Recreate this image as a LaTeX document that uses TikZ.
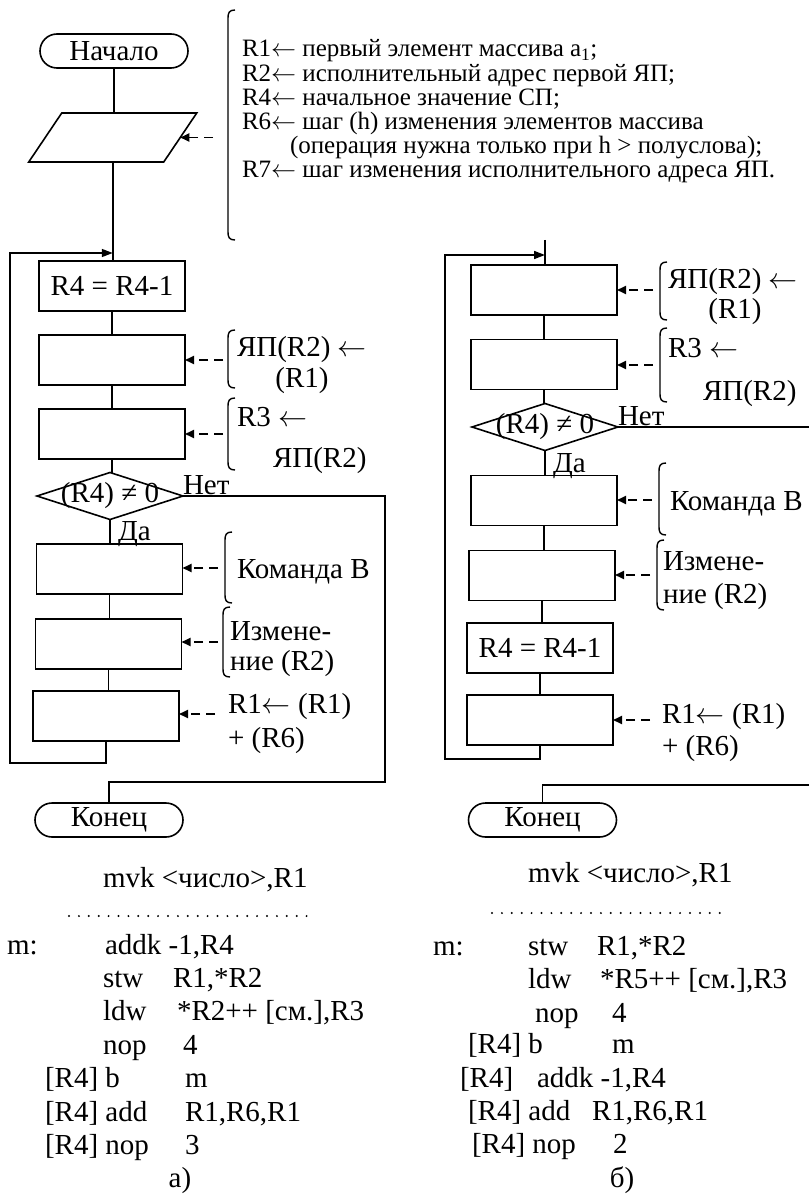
\RequirePackage{fix-cm}
\documentclass[tikz,border=0pt]{standalone}
\usepackage{fontspec}
\setmainfont{Liberation Serif}
\usetikzlibrary{shapes.geometric,shapes.misc,arrows.meta}

% side bracket: x, top y, bottom y
\newcommand\sidebracket[3]{%
  \draw[brc] (#1+7,#2) .. controls (#1+1,#2) and (#1,#2+3) .. (#1,#2+8)
    -- (#1,#3-8) .. controls (#1,#3-3) and (#1+1,#3) .. (#1+7,#3);}
\newcommand\larrow{$\leftarrow$}

\begin{document}
\begin{tikzpicture}[x=1pt,y=-1pt,
  every node/.style={inner sep=0pt,outer sep=0pt},
  ln/.style={line width=1.6pt},
  brc/.style={line width=1.4pt},
  blk/.style={draw,line width=1.6pt,rectangle,minimum width=146pt,minimum height=50pt,font=\fontsize{29}{32}\selectfont},
  term/.style={draw,line width=1.6pt,rounded rectangle,minimum width=148pt,minimum height=34pt,font=\fontsize{29}{32}\selectfont},
  cond/.style={draw,line width=1.6pt,diamond,minimum width=146pt,minimum height=47pt},
  iocore/.style={rectangle,minimum width=135pt,minimum height=49pt},
  lbl/.style={font=\fontsize{29}{32}\selectfont,anchor=base west},
  clbl/.style={font=\fontsize{29}{32}\selectfont,anchor=base},
  ann/.style={font=\fontsize{25}{24}\selectfont,anchor=base west},
  darr/.style={line width=1.8pt,dash pattern=on 9pt off 6pt,-{Triangle[length=9pt,width=8pt]}},
  larr/.style={ln,-{Triangle[length=11pt,width=8pt]}},
  dotline/.style={line width=2.2pt,dash pattern=on 0pt off 9.9pt,line cap=round}
]
\fill[white] (0,0) rectangle (809,1198);
\useasboundingbox (0,0) rectangle (809,1198);

% ---------- flowchart a) ----------
\node[term] (st1) at (114,51) {Начало};
% data block (parallelogram around a core node)
\node[iocore] (io1) at (112.75,137.5) {};
\draw[ln] ([xshift=-16.5pt]io1.south west) -- ([xshift=16.5pt]io1.north west)
  -- ([xshift=16.5pt]io1.north east) -- ([xshift=-16.5pt]io1.south east) -- cycle;
\node[blk] (a1) at (112,286) {R4 = R4-1};
\node[blk] (a2) at (112,360) {};
\node[blk] (a3) at (112,434) {};
\node[cond] (ad) at (110,496) {};
\node[font=\fontsize{29}{32}\selectfont] (adt) at (ad.center) {(R4) ≠ 0};
\node[blk] (a4) at (109.5,569) {};
\node[blk] (a5) at (108.5,644) {};
\node[blk] (a6) at (106,716) {};
\node[term] (en1) at (109,820) {Конец};

\draw[ln] (st1.south) -- (st1.south |- io1.north);
\draw[ln] (io1.south) -- (io1.south |- a1.north);
\draw[ln] (a1.south) -- (a1.south |- a2.north);
\draw[ln] (a2.south) -- (a2.south |- a3.north);
\draw[ln] (a3.south) -- (a3.south |- ad.north);
\draw[ln] (ad.south) -- (ad.south |- a4.north);
\draw[ln] (a4.south) -- (a4.south |- a5.north);
\draw[ln] (a5.south) -- (a5.south |- a6.north);
\coordinate (aLB) at (10,763);
\coordinate (aLT) at (10,253);
\draw[larr] (a6.south) -- (a6.south |- aLB) -- (aLB) -- (aLT) -- (aLT -| io1.center);
\coordinate (aNo) at (385,782);
\draw[ln] (ad.east) -| (aNo) -- (aNo -| en1.north) -- (en1.north);
\node[lbl] (aNet) at (183,494) {Нет};
\node[lbl] (aDa) at (118,540) {Да};

% dashed pointers
\coordinate (qa0) at (213,137.5);
\coordinate (qa1) at (223,360);
\coordinate (qa2) at (223,434);
\coordinate (qa3) at (218,568);
\coordinate (qa4) at (218,642);
\coordinate (qa5) at (215,714);
\draw[darr] (qa0) -- (io1.east);
\draw[darr] (qa1) -- (qa1 -| a2.east);
\draw[darr] (qa2) -- (qa2 -| a3.east);
\draw[darr] (qa3) -- (qa3 -| a4.east);
\draw[darr] (qa4) -- (qa4 -| a5.east);
\draw[darr] (qa5) -- (qa5 -| a6.east);

% comments
\sidebracket{228}{10}{240}
\node[ann] (c1) at (242,57) {R1\larrow{} первый элемент массива a\textsubscript{1};};
\node[ann] (c2) at (242,82) {R2\larrow{} исполнительный адрес первой ЯП;};
\node[ann] (c3) at (242,106) {R4\larrow{} начальное значение СП;};
\node[ann] (c4) at (242,130) {R6\larrow{} шаг (h) изменения элементов массива};
\node[ann] (c5) at (290,154) {(операция нужна только при h > полуслова);};
\node[ann] (c6) at (242,178) {R7\larrow{} шаг изменения исполнительного адреса ЯП.};

\sidebracket{228}{330}{388}
\node[lbl] (a2t1) at (237,356) {ЯП(R2) \larrow};
\node[clbl] (a2t2) at (302,387) {(R1)};
\sidebracket{228}{398}{470}
\node[lbl] (a3t1) at (237,426) {R3 \larrow};
\node[lbl] (a3t2) at (273,467) {ЯП(R2)};
\sidebracket{225}{532}{603}
\node[lbl] (a4t) at (237,578) {Команда B};
\sidebracket{223}{607}{677}
\node[lbl] (a5t1) at (230,640) {Измене-};
\node[lbl] (a5t2) at (230,670) {ние (R2)};
\node[lbl] (a6t1) at (228,713) {R1\larrow{} (R1)};
\node[lbl] (a6t2) at (228,747) {+ (R6)};

% ---------- flowchart b) ----------
\coordinate (bTop) at (545,240);
\node[blk] (b1) at (544,290) {};
\node[blk] (b2) at (544,364.5) {};
\node[cond] (bd) at (545,427) {};
\node[font=\fontsize{29}{32}\selectfont] (bdt) at (bd.center) {(R4) ≠ 0};
\node[blk] (b3) at (544,500.5) {};
\node[blk] (b4) at (542,575.5) {};
\node[blk] (b5) at (540,648) {R4 = R4-1};
\node[blk] (b6) at (540,720) {};
\node[term] (en2) at (542.5,820) {Конец};

\draw[ln] (bTop) -- (bTop |- b1.north);
\draw[ln] (b1.south) -- (b1.south |- b2.north);
\draw[ln] (b2.south) -- (b2.south |- bd.north);
\draw[ln] (bd.south) -- (bd.south |- b3.north);
\draw[ln] (b3.south) -- (b3.south |- b4.north);
\draw[ln] (b4.south) -- (b4.south |- b5.north);
\draw[ln] (b5.south) -- (b5.south |- b6.north);
\coordinate (bLB) at (445,759);
\coordinate (bLT) at (445,255);
\draw[larr] (b6.south) -- (b6.south |- bLB) -- (bLB) -- (bLT) -- (bLT -| bTop);
\coordinate (bNo) at (809,427);
\draw[ln] (bd.east) -- (bNo);
\coordinate (bEx) at (809,785);
\draw[ln] (bEx) -- (bEx -| en2.north) -- (en2.north);
\node[lbl] (bNet) at (618,425) {Нет};
\node[lbl] (bDa) at (553,472) {Да};

\coordinate (qb1) at (653,290);
\coordinate (qb2) at (653,365);
\coordinate (qb3) at (652,500);
\coordinate (qb4) at (650,575);
\coordinate (qb6) at (650,720);
\draw[darr] (qb1) -- (qb1 -| b1.east);
\draw[darr] (qb2) -- (qb2 -| b2.east);
\draw[darr] (qb3) -- (qb3 -| b3.east);
\draw[darr] (qb4) -- (qb4 -| b4.east);
\draw[darr] (qb6) -- (qb6 -| b6.east);

\sidebracket{660}{262}{320}
\node[lbl] (b1t1) at (668,288) {ЯП(R2) \larrow};
\node[clbl] (b1t2) at (735,318) {(R1)};
\sidebracket{660}{328}{402}
\node[lbl] (b2t1) at (668,357) {R3 \larrow};
\node[lbl] (b2t2) at (703,400) {ЯП(R2)};
\sidebracket{659}{463}{535}
\node[lbl] (b3t) at (670,510) {Команда B};
\sidebracket{657}{540}{610}
\node[lbl] (b4t1) at (663,570) {Измене-};
\node[lbl] (b4t2) at (663,603) {ние (R2)};
\node[lbl] (b6t1) at (662,723) {R1\larrow{} (R1)};
\node[lbl] (b6t2) at (662,755) {+ (R6)};

% ---------- program a) ----------
\node[lbl] (pa0) at (103,887) {mvk <число>,R1};
\draw[dotline] (69,916) -- (307,916);
\node[lbl] (pam) at (7,954) {m:};
\node[lbl] (pa1) at (105,954) {addk -1,R4};
\node[lbl] (pa2a) at (103,987) {stw};
\node[lbl] (pa2b) at (173,987) {R1,*R2};
\node[lbl] (pa3a) at (103,1020) {ldw};
\node[lbl] (pa3b) at (177,1020) {*R2++ [см.],R3};
\node[lbl] (pa4a) at (103,1054) {nop};
\node[lbl] (pa4b) at (183,1054) {4};
\node[lbl] (pa5a) at (45,1087) {[R4] b};
\node[lbl] (pa5b) at (185,1087) {m};
\node[lbl] (pa6a) at (45,1121) {[R4] add};
\node[lbl] (pa6b) at (185,1121) {R1,R6,R1};
\node[lbl] (pa7a) at (45,1154) {[R4] nop};
\node[lbl] (pa7b) at (185,1154) {3};
\node[clbl] (pacap) at (180,1187) {а)};

% ---------- program b) ----------
\node[lbl] (pb0) at (528,882) {mvk <число>,R1};
\draw[dotline] (492,913) -- (725,913);
\node[lbl] (pbm) at (433,955) {m:};
\node[lbl] (pb1a) at (528,955) {stw};
\node[lbl] (pb1b) at (597,955) {R1,*R2};
\node[lbl] (pb2a) at (528,988) {ldw};
\node[lbl] (pb2b) at (600,988) {*R5++ [см.],R3};
\node[lbl] (pb3a) at (535,1022) {nop};
\node[lbl] (pb3b) at (612,1022) {4};
\node[lbl] (pb4a) at (468,1053) {[R4] b};
\node[lbl] (pb4b) at (612,1053) {m};
\node[lbl] (pb5a) at (460,1087) {[R4]};
\node[lbl] (pb5b) at (537,1087) {addk -1,R4};
\node[lbl] (pb6a) at (468,1120) {[R4] add};
\node[lbl] (pb6b) at (592,1120) {R1,R6,R1};
\node[lbl] (pb7a) at (472,1153) {[R4] nop};
\node[lbl] (pb7b) at (613,1153) {2};
\node[clbl] (pbcap) at (622,1187) {б)};
\end{tikzpicture}
\end{document}
